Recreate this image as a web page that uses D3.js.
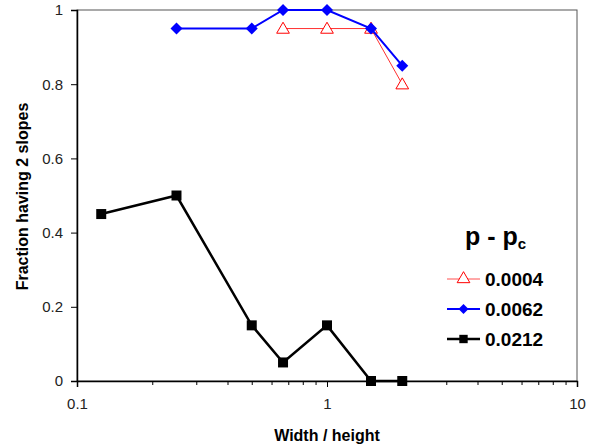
<!DOCTYPE html>
<html>
<head>
<meta charset="utf-8">
<script src="https://cdn.jsdelivr.net/npm/d3@7"></script>
<style>
  body { margin: 0; background: #fff; }
  text { font-family: "Liberation Sans", Arial, sans-serif; }
</style>
</head>
<body>
<div id="chart"></div>
<script>
// data
var xRed = [0.667, 1, 1.5, 2];
var yRed = [0.95, 0.95, 0.95, 0.8];
var xBlue = [0.25, 0.5, 0.667, 1, 1.5, 2];
var yBlue = [0.95, 0.95, 1, 1, 0.95, 0.85];
var xBlack = [0.125, 0.25, 0.5, 0.667, 1, 1.5, 2];
var yBlack = [0.45, 0.5, 0.15, 0.05, 0.15, 0, 0];
var seriesNames = ["0.0004", "0.0062", "0.0212"];
var xTicks = [0.1, 1, 10];
var yTicks = [0, 0.2, 0.4, 0.6, 0.8, 1];

var W = 595, H = 446;
var margin = { top: 10, right: 18, bottom: 65, left: 77 },
    width = W - margin.left - margin.right,
    height = H - margin.top - margin.bottom;

var svg = d3.select("#chart").append("svg")
    .attr("width", W)
    .attr("height", H);

var canvas = svg.append("g")
    .attr("transform", "translate(" + margin.left + "," + margin.top + ")");

var xScale = d3.scaleLog().domain([0.1, 10]).range([0, width]);
var yScale = d3.scaleLinear().domain([0, 1]).range([height, 0]);

// plot frame
canvas.append("rect")
    .attr("width", width)
    .attr("height", height)
    .attr("fill", "none")
    .attr("stroke", "#555")
    .attr("stroke-width", 1);

// minor ticks on x
var minor = [];
[0.1, 1].forEach(function (d) {
    for (var k = 2; k <= 9; k++) minor.push(d * k);
});
canvas.append("g")
    .attr("transform", "translate(0," + height + ")")
    .call(d3.axisBottom(xScale).tickValues(minor).tickSize(4).tickFormat(""))
    .call(function (g) { g.select(".domain").remove(); });

var xAxis = canvas.append("g")
    .attr("class", "xAxis")
    .attr("transform", "translate(0," + height + ")")
    .call(d3.axisBottom(xScale).tickValues(xTicks).tickSize(6).tickPadding(11)
        .tickFormat(function (d) { return d; }));

var yAxis = canvas.append("g")
    .attr("class", "yAxis")
    .call(d3.axisLeft(yScale).tickValues(yTicks).tickSize(6).tickPadding(8)
        .tickFormat(function (d) { return d; }));

[xAxis, yAxis].forEach(function (a) {
    a.select(".domain").attr("stroke", "#000").attr("stroke-width", 1.5);
    a.selectAll("text").attr("font-size", 15).attr("fill", "#222")
        .style("font-family", "'Liberation Sans', Arial, sans-serif");
});
canvas.selectAll(".tick line").attr("stroke", "#000");

// axis titles
svg.append("text")
    .attr("x", margin.left + xScale(1))
    .attr("y", 441)
    .attr("text-anchor", "middle")
    .attr("font-size", 16)
    .attr("font-weight", "bold")
    .text("Width / height");

svg.append("text")
    .attr("transform", "translate(28," + (margin.top + height / 2 + 1) + ") rotate(-90)")
    .attr("text-anchor", "middle")
    .attr("font-size", 16)
    .attr("font-weight", "bold")
    .text("Fraction having 2 slopes");

var line = d3.line()
    .x(function (d) { return xScale(d[0]); })
    .y(function (d) { return yScale(d[1]); });

var red = d3.zip(xRed, yRed),
    blue = d3.zip(xBlue, yBlue),
    black = d3.zip(xBlack, yBlack);

// square rotated 45 degrees, like Excel's diamond marker
function diamond(r) {
    return "M0," + (-r) + "L" + r + ",0L0," + r + "L" + (-r) + ",0Z";
}

var tri = d3.symbol().type(d3.symbolTriangle).size(70),
    sq = d3.symbol().type(d3.symbolSquare).size(100);

// black series
canvas.append("path").datum(black)
    .attr("d", line).attr("fill", "none")
    .attr("stroke", "#000").attr("stroke-width", 2.5);
canvas.selectAll(".sq").data(black).enter().append("path")
    .attr("d", sq)
    .attr("transform", function (d) { return "translate(" + xScale(d[0]) + "," + yScale(d[1]) + ")"; })
    .attr("fill", "#000");

// red series
canvas.append("path").datum(red)
    .attr("d", line).attr("fill", "none")
    .attr("stroke", "#ff3030").attr("stroke-width", 1);
canvas.selectAll(".tri").data(red).enter().append("path")
    .attr("d", tri)
    .attr("transform", function (d) { return "translate(" + xScale(d[0]) + "," + (yScale(d[1]) + 1) + ")"; })
    .attr("fill", "#fff")
    .attr("stroke", "#ff0000").attr("stroke-width", 1);

// blue series
canvas.append("path").datum(blue)
    .attr("d", line).attr("fill", "none")
    .attr("stroke", "#0000ff").attr("stroke-width", 2);
canvas.selectAll(".dia").data(blue).enter().append("path")
    .attr("d", diamond(6))
    .attr("transform", function (d) { return "translate(" + xScale(d[0]) + "," + yScale(d[1]) + ")"; })
    .attr("fill", "#0000ff");

// legend
var legend = svg.append("g").attr("transform", "translate(447,0)");
var title = legend.append("text")
    .attr("x", 18).attr("y", 245)
    .attr("font-size", 25).attr("font-weight", "bold");
title.append("tspan").text("p - p");
title.append("tspan").attr("font-size", 15).attr("dy", 4).text("c");

var legStyles = [
    { stroke: "#ff5050", sw: 1, sym: tri, fill: "#fff", mstroke: "#ff0000" },
    { stroke: "#0000ff", sw: 2, sym: diamond(5), fill: "#0000ff", mstroke: "none" },
    { stroke: "#000", sw: 2.5, sym: d3.symbol().type(d3.symbolSquare).size(70), fill: "#000", mstroke: "none" }
];
seriesNames.forEach(function (name, i) {
    var y = 279 + i * 30;
    var s = legStyles[i];
    legend.append("line")
        .attr("x1", 0).attr("x2", 33).attr("y1", y).attr("y2", y)
        .attr("stroke", s.stroke).attr("stroke-width", s.sw);
    legend.append("path")
        .attr("d", s.sym)
        .attr("transform", "translate(16.5," + y + ")")
        .attr("fill", s.fill).attr("stroke", s.mstroke);
    legend.append("text")
        .attr("x", 38).attr("y", y + 7)
        .attr("font-size", 19).attr("font-weight", "bold")
        .text(name);
});
</script>
</body>
</html>
